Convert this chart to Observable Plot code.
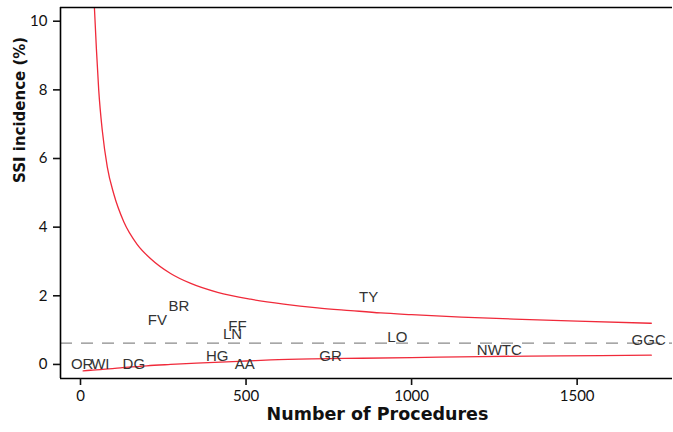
<!DOCTYPE html>
<html>
<head>
<meta charset="utf-8">
<script src="https://cdn.jsdelivr.net/npm/d3@7"></script>
<script src="https://cdn.jsdelivr.net/npm/@observablehq/plot@0.6"></script>
<style>
  html, body { margin: 0; padding: 0; background: #fff; }
  #chart svg { display: block; }
</style>
</head>
<body>
<div id="chart"></div>
<script>
// Hospital labels and their (procedures, SSI %) positions
const sites = ["OR", "WI", "DG", "HG", "AA", "FV", "BR", "FF", "LN", "TY", "LO", "GR", "NWTC", "GGC"];
const procedures = [5, 60, 161, 413, 496, 232, 297, 474, 459, 870, 957, 755, 1265, 1716];
const ssiRate = [0.0, 0.0, 0.0, 0.25, 0.0, 1.29, 1.70, 1.12, 0.88, 1.96, 0.80, 0.24, 0.42, 0.71];

// Upper control limit
const upperN = [42, 48, 55, 66, 81, 101, 131, 171, 212, 272, 333, 414, 514, 614, 716, 816, 907, 1000, 1150, 1309, 1500, 1724];
const upperV = [10.4, 9.2, 8.0, 6.8, 5.75, 4.95, 4.15, 3.50, 3.08, 2.65, 2.36, 2.10, 1.90, 1.76, 1.65, 1.57, 1.50, 1.45, 1.38, 1.32, 1.26, 1.20];

// Lower control limit
const lowerN = [8, 30, 60, 121, 200, 272, 350, 423, 500, 575, 700, 850, 1000, 1210, 1450, 1724];
const lowerV = [-0.19, -0.17, -0.15, -0.10, -0.04, 0.0, 0.04, 0.07, 0.10, 0.13, 0.16, 0.18, 0.20, 0.23, 0.25, 0.27];

// Overall mean
const meanRate = [0.62];

const xTicks = [0, 500, 1000, 1500];
const yTicks = [0, 2, 4, 6, 8, 10];
const xDomain = [-60.4, 1788];
const yDomain = [-0.41, 10.4];

const labels = sites.map((s, i) => ({site: s, n: procedures[i], v: ssiRate[i]}));
const upper = upperN.map((n, i) => ({n, v: upperV[i]}));
const lower = lowerN.map((n, i) => ({n, v: lowerV[i]}));

const red = "#f02a3a";

const chart = Plot.plot({
  width: 673,
  height: 432,
  marginLeft: 60,
  marginRight: 1,
  marginTop: 7,
  marginBottom: 54,
  style: {fontFamily: "Lato, sans-serif", fontSize: "15px", color: "#111", background: "#fff"},
  x: {domain: xDomain, label: null},
  y: {domain: yDomain, label: null},
  marks: [
    Plot.ruleY(meanRate, {stroke: "#8a8a8a", strokeWidth: 1.2, strokeDasharray: "12,9"}),
    Plot.line(upper, {x: "n", y: "v", stroke: red, strokeWidth: 1.3, curve: "monotone-x", clip: true}),
    Plot.line(lower, {x: "n", y: "v", stroke: red, strokeWidth: 1.3, curve: "monotone-x", clip: true}),
    Plot.text(labels, {x: "n", y: "v", text: "site", fill: "#333", fontSize: 15, fontFamily: "Liberation Sans, Arial, sans-serif"}),
    Plot.ruleX([xDomain[0]], {stroke: "#000", strokeWidth: 1.6}),
    Plot.ruleY([yDomain[0], yDomain[1]], {stroke: "#000", strokeWidth: 1.6}),
    Plot.axisX({ticks: xTicks, tickFormat: d => String(d), tickSize: 7, tickPadding: 5, label: null, strokeWidth: 1.6, fontSize: 15}),
    Plot.axisY({ticks: yTicks, tickFormat: d => String(d), tickSize: 7, tickPadding: 6, label: null, strokeWidth: 1.6, fontSize: 15}),
    Plot.text(["Number of Procedures"], {frameAnchor: "bottom", dx: 11, dy: 41, fontWeight: "bold", fontSize: 17.5, fontFamily: "DejaVu Sans", fill: "#111"}),
    Plot.text(["SSI incidence (%)"], {frameAnchor: "left", rotate: -90, dx: -40, dy: -10, fontWeight: "bold", fontSize: 15, fontFamily: "DejaVu Sans", fill: "#111"})
  ]
});
document.getElementById("chart").appendChild(chart);
</script>
</body>
</html>
